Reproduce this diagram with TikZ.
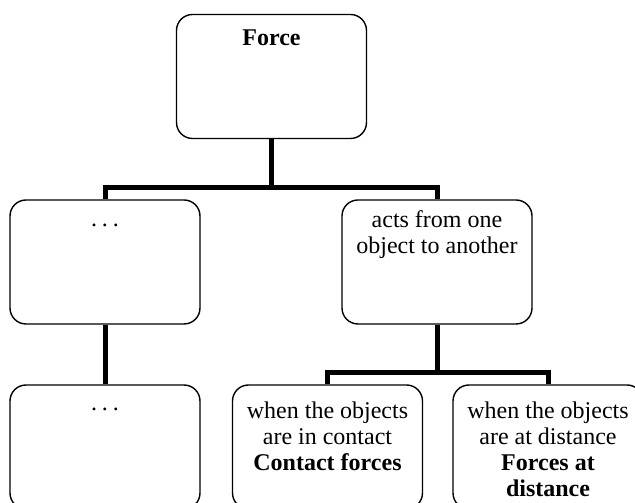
\documentclass[tikz,border=0pt]{standalone}
\usepackage{fontspec}
\setmainfont{Liberation Serif}
\begin{document}
\begin{tikzpicture}[x=1pt,y=1pt,
  box/.style={draw=black, line width=1.4pt, rounded corners=16pt,
    minimum width=190pt, minimum height=124pt, inner sep=0pt},
  conn/.style={draw=black, line width=5pt},
  txt/.style={anchor=north, align=center, inner sep=0pt,
    font=\fontsize{24}{26}\selectfont}
]
\useasboundingbox (0,0) rectangle (635,503);
\clip (0,0) rectangle (635,503);
% boxes
\node[box] (force) at (271.5,426.5) {};
\node[box] (left)  at (105,241) {};
\node[box] (acts)  at (437,241) {};
\node[box] (leftb) at (105,56) {};
\node[box] (cont)  at (327.5,56) {};
\node[box] (dist)  at (548,56) {};
% texts
\node[txt] (forcet) at ([yshift=-13.5pt]force.north) {\strut\textbf{Force}};
\node[txt] (leftt)  at ([yshift=-8.5pt]left.north) {\strut.\kern0.2em.\kern0.2em.};
\node[txt] (actst)  at ([yshift=-10pt]acts.north) {\strut acts from one\\object to another};
\node[txt] (leftbt) at ([yshift=-7.5pt]leftb.north) {\strut.\kern0.2em.\kern0.2em.};
\node[txt] (contt)  at ([yshift=-16pt]cont.north) {\strut when the objects\\are in contact\\\textbf{Contact forces}};
\node[txt] (distt)  at ([yshift=-16pt]dist.north) {\strut when the objects\\are at distance\\\textbf{Forces at}\\\textbf{distance}};
% connectors
\coordinate (j1) at (271.5,315.5);
\coordinate (j2) at (437,130);
\draw[conn] (force.south) -- (j1);
\draw[conn] (left.north) |- (j1) -| (acts.north);
\draw[conn] (left.south) -- (leftb.north);
\draw[conn] (acts.south) -- (j2);
\draw[conn] (cont.north) |- (j2) -| (dist.north);
\end{tikzpicture}
\end{document}
